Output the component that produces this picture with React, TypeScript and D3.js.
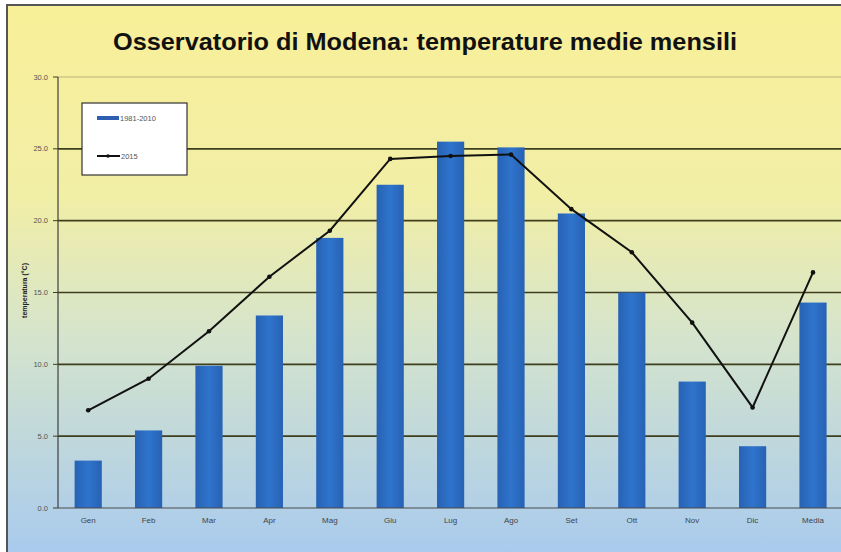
import React from "react";
import * as d3 from "d3";

const categories = ["Gen", "Feb", "Mar", "Apr", "Mag", "Giu", "Lug", "Ago", "Set", "Ott", "Nov", "Dic", "Media"];
const normals = [3.3, 5.4, 9.9, 13.4, 18.8, 22.5, 25.5, 25.1, 20.5, 15.0, 8.8, 4.3, 14.3];
const year2015 = [6.8, 9.0, 12.3, 16.1, 19.3, 24.3, 24.5, 24.6, 20.8, 17.8, 12.9, 7.0, 16.4];
const yTicks = [0, 5, 10, 15, 20, 25, 30];
const legendLabels = ["1981-2010", "2015"];
const titleText = "Osservatorio di Modena: temperature medie mensili";
const yAxisTitle = "temperatura (°C)";

export default function App() {
  const W = 841, H = 552;
  const left = 58, bandW = 60.4;
  const x = d3.scaleBand<string>().domain(categories).range([left, left + bandW * categories.length]).paddingInner(0.55).paddingOuter(0.275);
  const y = d3.scaleLinear().domain([0, 30]).range([508, 77]);
  const center = (c: string) => (x(c) as number) + x.bandwidth() / 2;
  const line = d3.line<number>().x((_, i) => center(categories[i])).y((d) => y(d));
  const font = "'Liberation Sans', Arial, sans-serif";
  return (
    <svg width={W} height={H} style={{ position: "absolute", left: 0, top: 0 }}>
      <defs>
        <linearGradient id="bg" x1="0" y1="0" x2="0" y2="1">
          <stop offset="0" stopColor="#f8ef98" />
          <stop offset="0.35" stopColor="#f1eea6" />
          <stop offset="0.6" stopColor="#d5e4cc" />
          <stop offset="1" stopColor="#a8caee" />
        </linearGradient>
        <linearGradient id="bar" x1="0" y1="0" x2="1" y2="0">
          <stop offset="0" stopColor="#2762b4" />
          <stop offset="0.5" stopColor="#2f74cc" />
          <stop offset="1" stopColor="#2762b4" />
        </linearGradient>
      </defs>
      <rect x={0} y={0} width={W} height={H} fill="#ffffff" />
      <rect x={7} y={5} width={W} height={H} fill="url(#bg)" stroke="#555" strokeWidth={2} />
      <text x={425} y={50} textAnchor="middle" fontFamily={font} fontWeight="bold" fontSize={24.5} fill="#111" textLength={624} lengthAdjust="spacingAndGlyphs">{titleText}</text>
      {yTicks.map((t) => (
        <g key={t}>
          {t > 0 && <line x1={left} x2={W} y1={y(t)} y2={y(t)} stroke={t === 30 ? "#b8b47a" : "#3e3e1c"} strokeWidth={t === 30 ? 1 : 1.6} />}
          <line x1={left - 5} x2={left} y1={y(t)} y2={y(t)} stroke="#3e3e1c" strokeWidth={1} />
          <text x={left - 10} y={y(t) + 2.5} textAnchor="end" fontFamily={font} fontSize={7.5} fill="#555">{t.toFixed(1)}</text>
        </g>
      ))}
      {categories.map((c, i) => (
        <rect key={c} x={x(c)} y={y(normals[i])} width={x.bandwidth()} height={y(0) - y(normals[i])} fill="url(#bar)" />
      ))}
      <line x1={left} x2={left} y1={y(30)} y2={y(0)} stroke="#3e3e3e" strokeWidth={1.2} />
      <line x1={left} x2={W} y1={y(0)} y2={y(0)} stroke="#4a4a4a" strokeWidth={1.2} />
      {categories.map((c) => (
        <text key={c} x={center(c)} y={523} textAnchor="middle" fontFamily={font} fontSize={8} fill="#444">{c}</text>
      ))}
      <path d={line(year2015) || ""} fill="none" stroke="#111" strokeWidth={2} />
      {year2015.map((v, i) => (
        <circle key={i} cx={center(categories[i])} cy={y(v)} r={2.3} fill="#111" />
      ))}
      <text transform={`translate(27,${y(15) - 2}) rotate(-90)`} textAnchor="middle" fontFamily={font} fontSize={7} fontWeight="bold" fill="#222">{yAxisTitle}</text>
      <g>
        <rect x={82} y={103} width={105} height={72} fill="#ffffff" stroke="#333" strokeWidth={1.2} />
        <rect x={97} y={116} width={22} height={4} fill="#2f5fb0" />
        <text x={120} y={121} fontFamily={font} fontSize={7.5} fill="#555">{legendLabels[0]}</text>
        <line x1={97} x2={120} y1={156} y2={156} stroke="#111" strokeWidth={2} />
        <circle cx={108} cy={156} r={1.8} fill="#111" />
        <text x={121} y={158.5} fontFamily={font} fontSize={7.5} fill="#555">{legendLabels[1]}</text>
      </g>
    </svg>
  );
}
